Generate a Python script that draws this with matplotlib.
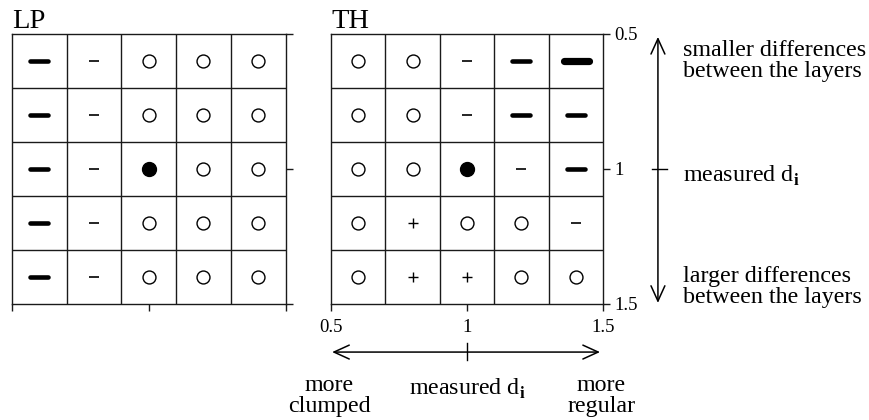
import matplotlib
matplotlib.use("Agg")
import matplotlib.pyplot as plt
from matplotlib.markers import MarkerStyle

plt.rcParams['font.family'] = ['Liberation Serif', 'DejaVu Serif']
plt.rcParams['mathtext.fontset'] = 'custom'
plt.rcParams['mathtext.rm'] = 'Liberation Serif'
plt.rcParams['mathtext.bf'] = 'Liberation Serif:bold'

# cell centres of the 5x5 grid (d_i scaling factors)
x_vals = [0.6, 0.8, 1.0, 1.2, 1.4]
y_vals = [0.6, 0.8, 1.0, 1.2, 1.4]
tick_vals = [0.5, 1, 1.5]
tick_labels = ['0.5', '1', '1.5']

# symbol codes: o = no difference, O = measured pattern, + = positive,
# - = negative, = = strongly negative, # = very strongly negative
lp_cells = [
    ['=', '-', 'o', 'o', 'o'],
    ['=', '-', 'o', 'o', 'o'],
    ['=', '-', 'O', 'o', 'o'],
    ['=', '-', 'o', 'o', 'o'],
    ['=', '-', 'o', 'o', 'o'],
]
th_cells = [
    ['o', 'o', '-', '=', '#'],
    ['o', 'o', '-', '=', '='],
    ['o', 'o', 'O', '-', '='],
    ['o', '+', 'o', 'o', '-'],
    ['o', '+', '+', 'o', 'o'],
]

round_dash = MarkerStyle('_', capstyle='round')
symbol_style = {
    'o': dict(marker='o', ms=9.3, mfc='white', mec='black', mew=1.0),
    'O': dict(marker='o', ms=10.0, mfc='black', mec='black', mew=1.0),
    '+': dict(marker='+', ms=7.0, mec='black', mew=1.0),
    '-': dict(marker='_', ms=7.5, mec='black', mew=1.2),
    '=': dict(marker=round_dash, ms=13.0, mec='black', mew=3.3),
    '#': dict(marker=round_dash, ms=18.0, mec='black', mew=5.2),
}

LINE = '#1a1a1a'
FS = 17.3


def draw_grid(ax, cells, title, labels):
    ax.set_xlim(0.5, 1.5)
    ax.set_ylim(1.5, 0.5)
    for s in ax.spines.values():
        s.set_color(LINE)
        s.set_linewidth(1.0)
    for i in range(len(x_vals) - 1):
        ax.axvline((x_vals[i] + x_vals[i + 1]) / 2, color=LINE, lw=1.0)
        ax.axhline((y_vals[i] + y_vals[i + 1]) / 2, color=LINE, lw=1.0)
    for r, row in enumerate(cells):
        for c, code in enumerate(row):
            ax.plot([x_vals[c]], [y_vals[r]], ls='none', **symbol_style[code])
    ax.set_xticks(tick_vals)
    ax.set_yticks(tick_vals)
    ax.tick_params(axis='both', direction='out', length=5, width=1.0, color=LINE,
                   labelsize=13.5, bottom=True, left=False, right=True, top=False,
                   labelleft=False, labelright=labels, labelbottom=labels)
    ax.tick_params(axis='x', pad=6)
    ax.tick_params(axis='y', pad=3)
    if labels:
        ax.set_xticklabels(tick_labels)
        ax.set_yticklabels(tick_labels)
    ax.text(0.0, 1.022, title, transform=ax.transAxes, ha='left', va='baseline',
            fontsize=20.5)


fig = plt.figure(figsize=(8.7, 4.2), dpi=100)
ax_lp = fig.add_axes([0.0138, 0.2762, 0.3144, 0.643])
ax_th = fig.add_axes([0.3805, 0.2762, 0.3126, 0.643])

draw_grid(ax_lp, lp_cells, 'LP', False)
draw_grid(ax_th, th_cells, 'TH', True)

arrow = dict(arrowstyle='<->,head_length=1.1,head_width=0.5', lw=1.1,
             color='black', shrinkA=0, shrinkB=0, mutation_scale=10)

# vertical scale explanation on the right (va='baseline' sits on the last line)
yt = ax_th.get_yaxis_transform()
ax_th.annotate('', xy=(1.202, 0.511), xytext=(1.202, 1.496),
               xycoords=yt, textcoords=yt, arrowprops=arrow, annotation_clip=False)
ax_th.plot([1.18, 1.235], [1, 1], color='black', lw=1.0, transform=yt, clip_on=False)
ax_th.text(1.294, 0.66, 'smaller differences\nbetween the layers', transform=yt,
           ha='left', va='baseline', fontsize=FS, linespacing=1.0)
ax_th.text(1.294, 1.048, r'measured d$_\mathbf{i}$', transform=yt,
           ha='left', va='baseline', fontsize=FS)
ax_th.text(1.294, 1.496, 'larger differences\nbetween the layers', transform=yt,
           ha='left', va='baseline', fontsize=FS, linespacing=1.0)

# horizontal scale explanation below
xt = ax_th.get_xaxis_transform()
ax_th.annotate('', xy=(0.504, -0.178), xytext=(1.489, -0.178),
               xycoords=xt, textcoords=xt, arrowprops=arrow, annotation_clip=False)
ax_th.plot([1, 1], [-0.144, -0.207], color='black', lw=1.0, transform=xt, clip_on=False)
ax_th.text(0.493, -0.4, 'more\nclumped', transform=xt, ha='center', va='baseline',
           fontsize=FS, linespacing=1.0)
ax_th.text(1.0, -0.335, r'measured d$_\mathbf{i}$', transform=xt, ha='center',
           va='baseline', fontsize=FS)
ax_th.text(1.493, -0.4, 'more\nregular', transform=xt, ha='center', va='baseline',
           fontsize=FS, linespacing=1.0)

fig.savefig('out.png', dpi=100)
